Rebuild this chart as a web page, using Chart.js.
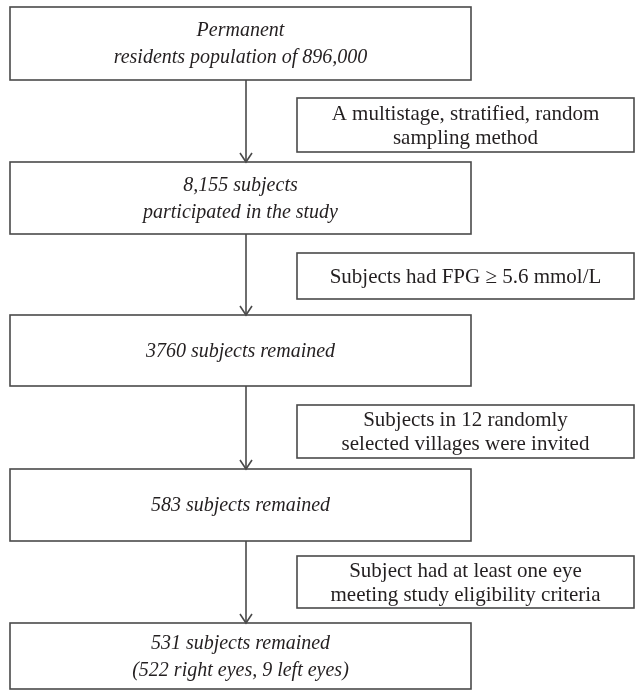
<!DOCTYPE html>
<html>
<head>
<meta charset="utf-8">
<script src="https://cdn.jsdelivr.net/npm/chart.js@4/dist/chart.umd.min.js"></script>
<style>
  html, body { margin: 0; padding: 0; background: #ffffff; }
  #wrap { width: 638px; height: 690px; position: relative; }
</style>
</head>
<body>
<div id="wrap"><canvas id="c"></canvas></div>
<script>
// ---- Flowchart content (data) ----
const stepLabels = [
  ["Permanent", "residents population of 896,000"],
  ["8,155 subjects", "participated in the study"],
  ["3760 subjects remained"],
  ["583 subjects remained"],
  ["531 subjects remained", "(522 right eyes, 9 left eyes)"]
];
const criteriaLabels = [
  ["A multistage, stratified, random", "sampling method"],
  ["Subjects had FPG \u2265 5.6 mmol/L"],
  ["Subjects in 12 randomly", "selected villages were invited"],
  ["Subject had at least one eye", "meeting study eligibility criteria"]
];

// ---- Layout (in scale units) ----
const layout = {
  mainLeft: 10, mainRight: 471,
  mainTops:    [7, 162, 315, 469, 623],
  mainBottoms: [80, 234, 386, 541, 689],
  sideLeft: 297, sideRight: 634,
  sideTops:    [98, 253, 405, 556],
  sideBottoms: [152, 299, 458, 608],
  arrowX: 246,
  mainLineGap: 27,
  sideLineGap: 24
};
const styles = {
  stroke: '#4a4a4a',
  lineWidth: 1.6,
  text: '#231f20',
  mainFont: 'italic 20px "Liberation Serif", "Times New Roman", serif',
  sideFont: '21px "Liberation Serif", "Times New Roman", serif'
};

const flowPlugin = {
  id: 'flow',
  afterDraw(chart) {
    const ctx = chart.ctx;
    const xs = chart.scales.x, ys = chart.scales.y;
    const X = v => xs.getPixelForValue(v);
    const Y = v => ys.getPixelForValue(v);
    ctx.save();
    ctx.strokeStyle = styles.stroke;
    ctx.lineWidth = styles.lineWidth;
    ctx.fillStyle = styles.text;
    ctx.textAlign = 'center';
    ctx.textBaseline = 'middle';

    function box(l, r, t, b, lines, font, gap) {
      const x0 = X(l), x1 = X(r), y0 = Y(t), y1 = Y(b);
      ctx.strokeRect(x0, y0, x1 - x0, y1 - y0);
      ctx.font = font;
      const cx = (x0 + x1) / 2, cy = (y0 + y1) / 2;
      const n = lines.length;
      lines.forEach((s, i) => {
        ctx.fillText(s, cx, cy + (i - (n - 1) / 2) * gap + 1);
      });
    }

    // main steps
    stepLabels.forEach((lines, i) => {
      box(layout.mainLeft, layout.mainRight, layout.mainTops[i], layout.mainBottoms[i],
          lines, styles.mainFont, layout.mainLineGap);
    });
    // criteria boxes
    criteriaLabels.forEach((lines, i) => {
      box(layout.sideLeft, layout.sideRight, layout.sideTops[i], layout.sideBottoms[i],
          lines, styles.sideFont, layout.sideLineGap);
    });
    // arrows
    for (let i = 0; i < stepLabels.length - 1; i++) {
      const ax = X(layout.arrowX);
      const yStart = Y(layout.mainBottoms[i]);
      const yEnd = Y(layout.mainTops[i + 1]);
      ctx.beginPath();
      ctx.moveTo(ax, yStart);
      ctx.lineTo(ax, yEnd);
      ctx.stroke();
      ctx.beginPath();
      ctx.moveTo(ax - 6, yEnd - 9);
      ctx.lineTo(ax, yEnd);
      ctx.lineTo(ax + 6, yEnd - 9);
      ctx.stroke();
    }
    ctx.restore();
  }
};

new Chart(document.getElementById('c'), {
  type: 'scatter',
  data: { datasets: [{ data: [], pointRadius: 0 }] },
  options: {
    responsive: true,
    maintainAspectRatio: false,
    animation: false,
    events: [],
    layout: { padding: 0 },
    scales: {
      x: { type: 'linear', min: 0, max: 638, display: false },
      y: { type: 'linear', min: 0, max: 690, reverse: true, display: false }
    },
    plugins: { legend: { display: false }, tooltip: { enabled: false } }
  },
  plugins: [flowPlugin]
});
</script>
</body>
</html>
